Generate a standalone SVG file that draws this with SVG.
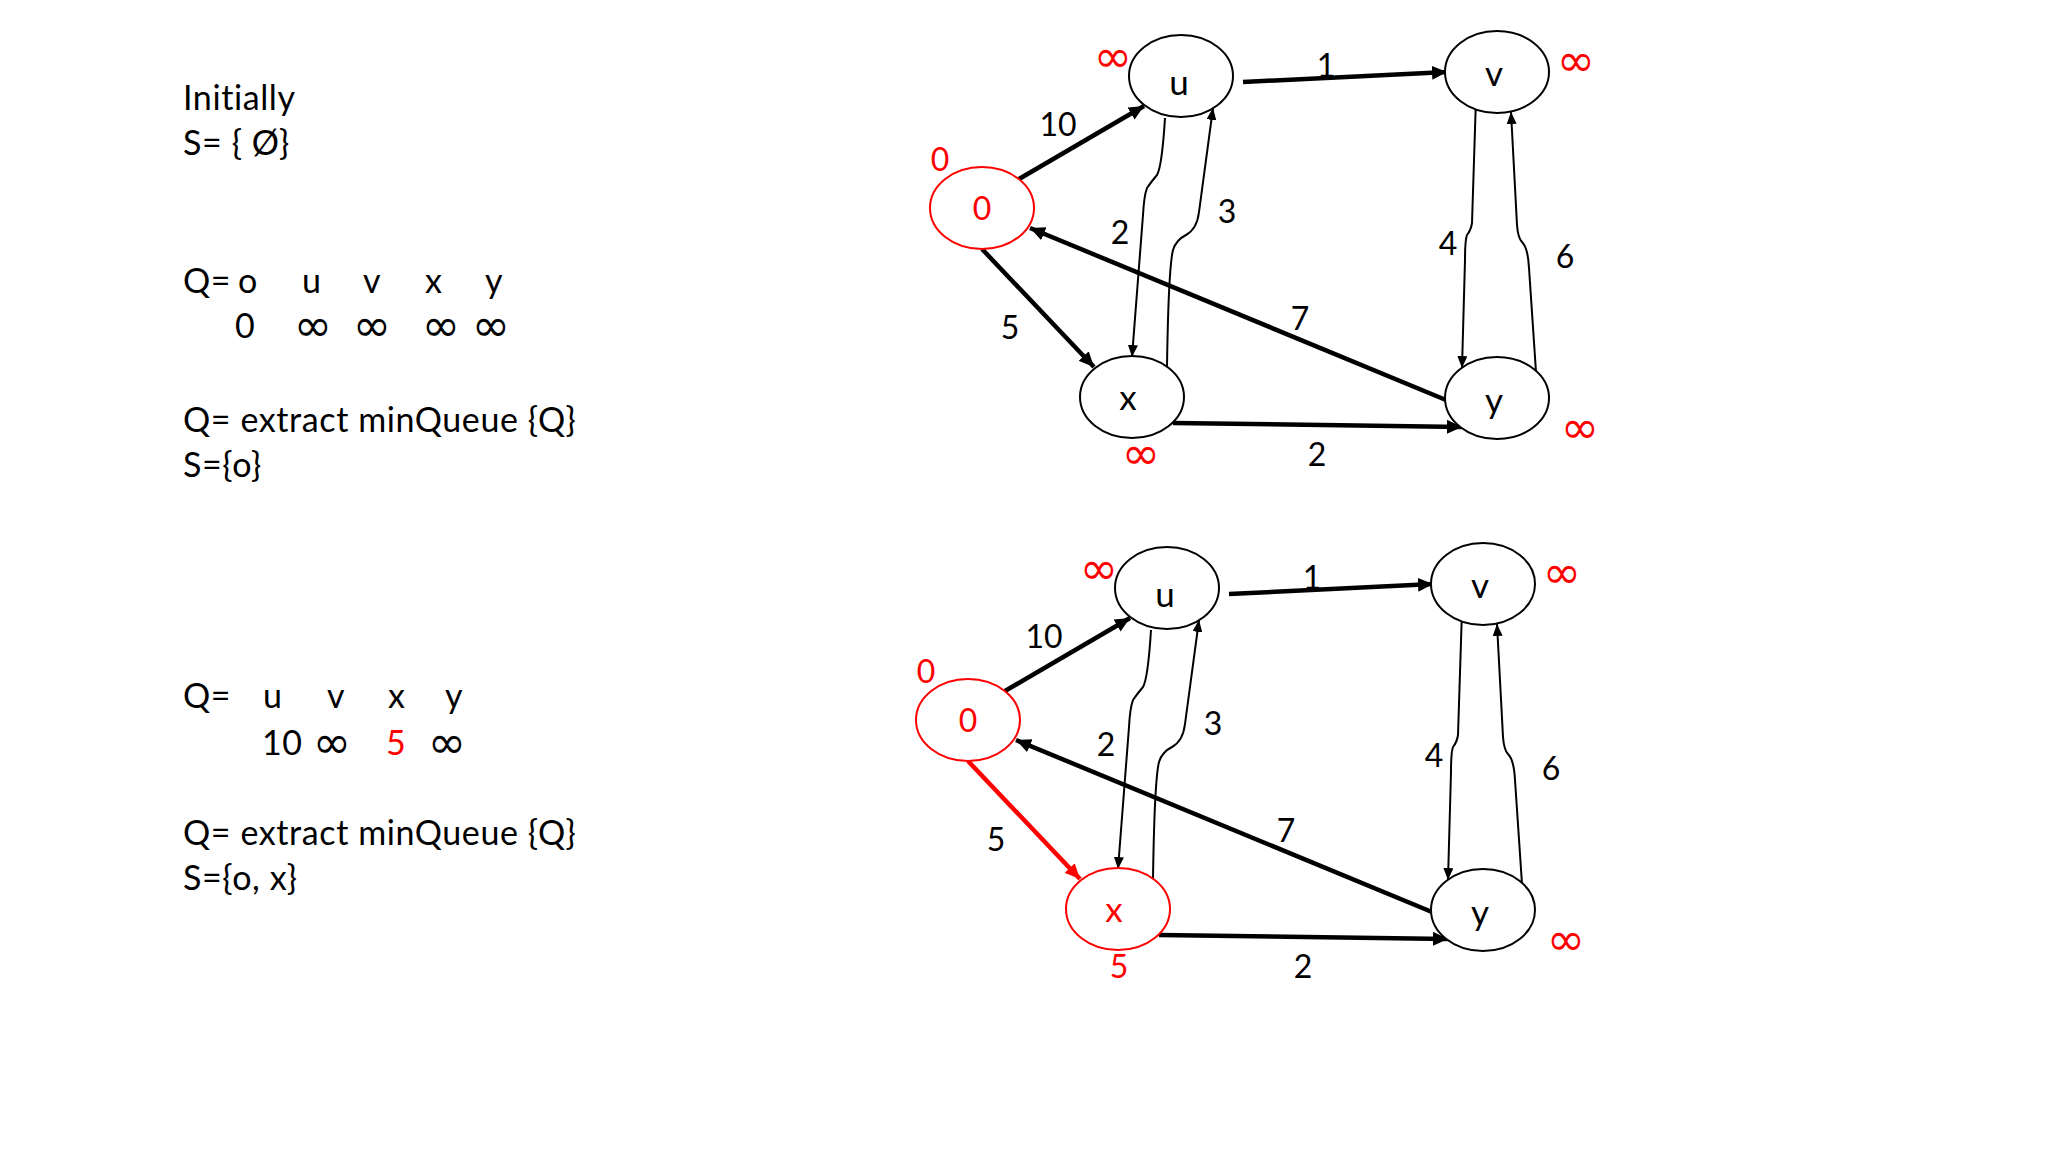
<svg xmlns="http://www.w3.org/2000/svg" width="2048" height="1152" viewBox="0 0 2048 1152">
<style>
.t{font-family:Lato,"Liberation Sans",sans-serif;font-size:34px;letter-spacing:0.6px;fill:#000}
.sym{font-family:"DejaVu Sans",sans-serif;font-size:46px;fill:#000;text-anchor:middle}
.lbl{font-family:Lato,"Liberation Sans",sans-serif;font-size:32px;fill:#000;text-anchor:middle}
.nl{font-family:Lato,"Liberation Sans",sans-serif;font-size:35px;fill:#000;text-anchor:middle}
.inf{font-family:"DejaVu Sans",sans-serif;font-size:46px;fill:#FF0000;text-anchor:middle}
text.r{fill:#FF0000}
.node{fill:#fff;stroke:#000;stroke-width:2}
.rnode{fill:#fff;stroke:#FF0000;stroke-width:2}
.thick{fill:none;stroke:#000;stroke-width:4.5;marker-end:url(#ah)}
.thickr{fill:none;stroke:#FF0000;stroke-width:4.5;marker-end:url(#ahr)}
.thin{fill:none;stroke:#000;stroke-width:2;marker-end:url(#at)}
</style>
<defs>
<marker id="ah" markerUnits="userSpaceOnUse" markerWidth="16" markerHeight="14" refX="15" refY="7" orient="auto"><path d="M0,0 L15,7 L0,14 z" fill="#000"/></marker>
<marker id="ahr" markerUnits="userSpaceOnUse" markerWidth="16" markerHeight="14" refX="15" refY="7" orient="auto"><path d="M0,0 L15,7 L0,14 z" fill="#FF0000"/></marker>
<marker id="at" markerUnits="userSpaceOnUse" markerWidth="12" markerHeight="10" refX="12" refY="5" orient="auto"><path d="M0,0 L12,5 L0,10 z" fill="#000"/></marker>
</defs>
<rect width="2048" height="1152" fill="#fff"/>

<g id="left-text">
<text class="t" x="183" y="110">Initially</text>
<text class="t" x="183" y="155">S= { Ø}</text>
<text class="t" x="183" y="293" letter-spacing="0">Q=</text>
<text class="t" x="238" y="293">o</text>
<text class="t" x="302" y="293">u</text>
<text class="t" x="363" y="293">v</text>
<text class="t" x="425" y="293">x</text>
<text class="t" x="485" y="293">y</text>
<text class="t" x="235" y="338">0</text>
<text class="sym" x="313" y="341">∞</text>
<text class="sym" x="372" y="341">∞</text>
<text class="sym" x="441" y="341">∞</text>
<text class="sym" x="491" y="341">∞</text>
<text class="t" x="183" y="432">Q= extract minQueue {Q}</text>
<text class="t" x="183" y="477">S={o}</text>
<text class="t" x="183" y="708">Q=</text>
<text class="t" x="263" y="708">u</text>
<text class="t" x="327" y="708">v</text>
<text class="t" x="388" y="708">x</text>
<text class="t" x="445" y="708">y</text>
<text class="t" x="262" y="755">10</text>
<text class="sym" x="332" y="758">∞</text>
<text class="t r" x="386" y="755">5</text>
<text class="sym" x="447" y="758">∞</text>
<text class="t" x="183" y="845">Q= extract minQueue {Q}</text>
<text class="t" x="183" y="890">S={o, x}</text>
</g>

<!-- Top graph -->
<g id="graph1">
<g id="connectors1">
<path class="thick" d="M1019,179 L1144,106"/>
<path class="thick" d="M1243,82 L1447,72"/>
<path class="thick" d="M982,249 L1094,367"/>
<path class="thick" d="M1446,400 L1030,228"/>
<path class="thick" d="M1173,423 L1462,427"/>
<path class="thin" d="M1165,118 C1163,150 1161,168 1157,175 Q1151,182 1147,188 Q1144,196 1143,215 L1132,357"/>
<path class="thin" d="M1167,367 C1168,300 1170,262 1173,250 Q1176,240 1186,235 Q1197,229 1199,212 L1213,108"/>
<path class="thin" d="M1476,98 L1472,223 Q1471,230 1467,235 Q1465,240 1465,260 L1462,368"/>
<path class="thin" d="M1536,372 L1529,268 Q1528,248 1522,242 Q1518,238 1517,225 L1511,112"/>
<text class="lbl" x="1058" y="136">10</text>
<text class="lbl" x="1326" y="77">1</text>
<text class="lbl" x="1120" y="244">2</text>
<text class="lbl" x="1227" y="223">3</text>
<text class="lbl" x="1448" y="255">4</text>
<text class="lbl" x="1565" y="268">6</text>
<text class="lbl" x="1300" y="330">7</text>
<text class="lbl" x="1010" y="339">5</text>
<text class="lbl" x="1317" y="466">2</text>
</g>
<g id="node-o-1">
<ellipse class="rnode" cx="982" cy="208" rx="52" ry="41"/>
<text class="lbl r" x="982" y="220">0</text>
<text class="lbl r" x="940" y="171">0</text>
</g>
<g id="node-u-1">
<ellipse class="node" cx="1181" cy="76" rx="52" ry="41"/>
<text class="nl" x="1179" y="95">u</text>
<text class="inf" x="1113" y="72">∞</text>
</g>
<g id="node-v-1">
<ellipse class="node" cx="1497" cy="72" rx="52" ry="41"/>
<text class="nl" x="1494" y="86">v</text>
<text class="inf" x="1576" y="76">∞</text>
</g>
<g id="node-x-1">
<ellipse class="node" cx="1132" cy="397" rx="52" ry="41"/>
<text class="nl" x="1128" y="410">x</text>
<text class="inf" x="1141" y="469">∞</text>
</g>
<g id="node-y-1">
<ellipse class="node" cx="1497" cy="398" rx="52" ry="41"/>
<text class="nl" x="1494" y="413">y</text>
<text class="inf" x="1580" y="443">∞</text>
</g>
</g>

<!-- Bottom graph -->
<g id="graph2" transform="translate(-14,512)">
<g id="connectors2">
<path class="thick" d="M1019,179 L1144,106"/>
<path class="thick" d="M1243,82 L1447,72"/>
<path class="thickr" d="M982,249 L1094,367"/>
<path class="thick" d="M1446,400 L1030,228"/>
<path class="thick" d="M1173,423 L1462,427"/>
<path class="thin" d="M1165,118 C1163,150 1161,168 1157,175 Q1151,182 1147,188 Q1144,196 1143,215 L1132,357"/>
<path class="thin" d="M1167,367 C1168,300 1170,262 1173,250 Q1176,240 1186,235 Q1197,229 1199,212 L1213,108"/>
<path class="thin" d="M1476,98 L1472,223 Q1471,230 1467,235 Q1465,240 1465,260 L1462,368"/>
<path class="thin" d="M1536,372 L1529,268 Q1528,248 1522,242 Q1518,238 1517,225 L1511,112"/>
<text class="lbl" x="1058" y="136">10</text>
<text class="lbl" x="1326" y="77">1</text>
<text class="lbl" x="1120" y="244">2</text>
<text class="lbl" x="1227" y="223">3</text>
<text class="lbl" x="1448" y="255">4</text>
<text class="lbl" x="1565" y="268">6</text>
<text class="lbl" x="1300" y="330">7</text>
<text class="lbl" x="1010" y="339">5</text>
<text class="lbl" x="1317" y="466">2</text>
</g>
<g id="node-o-2">
<ellipse class="rnode" cx="982" cy="208" rx="52" ry="41"/>
<text class="lbl r" x="982" y="220">0</text>
<text class="lbl r" x="940" y="171">0</text>
</g>
<g id="node-u-2">
<ellipse class="node" cx="1181" cy="76" rx="52" ry="41"/>
<text class="nl" x="1179" y="95">u</text>
<text class="inf" x="1113" y="72">∞</text>
</g>
<g id="node-v-2">
<ellipse class="node" cx="1497" cy="72" rx="52" ry="41"/>
<text class="nl" x="1494" y="86">v</text>
<text class="inf" x="1576" y="76">∞</text>
</g>
<g id="node-x-2">
<ellipse class="rnode" cx="1132" cy="397" rx="52" ry="41"/>
<text class="nl r" x="1128" y="410">x</text>
<text class="lbl r" x="1133" y="466">5</text>
</g>
<g id="node-y-2">
<ellipse class="node" cx="1497" cy="398" rx="52" ry="41"/>
<text class="nl" x="1494" y="413">y</text>
<text class="inf" x="1580" y="443">∞</text>
</g>
</g>
</svg>
